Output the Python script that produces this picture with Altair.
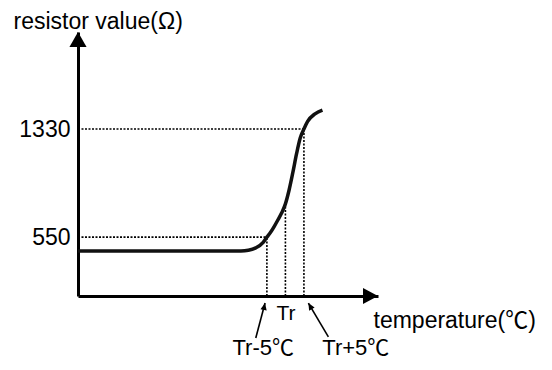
import altair as alt
import pandas as pd

# ---- data (temperature relative to Tr in degC, resistance in ohm) ----
temp_c = [-56, -12, -10, -8, -6, -5, -4, -3, -2, -1, 0, 1, 2, 3, 4, 5, 6, 8, 10]
resist = [450, 450, 455, 472, 512, 550, 585, 628, 675, 725, 790, 890, 1015, 1150, 1265, 1330, 1385, 1440, 1467]

res_ticks = [550, 1330]            # labelled resistance values
temp_marks = [-5, 0, 5]            # Tr-5, Tr, Tr+5
temp_mark_res = [550, 790, 1330]   # curve value at those temperatures
tick_label = "Tr"
anno_labels = ["Tr-5℃", "Tr+5℃"]

x_domain = [-56, 25]
y_domain = [125, 2030]

# annotation anchors (data units)
anno_text_t = [-6, 19]
anno_text_r = [-301, -301]
arrow_tail_t = [-8.0, 11.6]
arrow_tail_r = [-178, -170]
arrow_tip_t = [-5.5, 6.2]
arrow_tip_r = [74, 74]
arrow_angle = [12, 330]

FONT = "Liberation Sans, Arial, Noto Sans CJK SC, sans-serif"

xs = alt.Scale(domain=x_domain, nice=False, zero=False)
ys = alt.Scale(domain=y_domain, nice=False, zero=False)

x_axis = alt.Axis(values=[0], labelExpr="'" + tick_label + "'", ticks=False, grid=False,
                  domainColor="black", domainWidth=3, labelFontSize=21,
                  labelPadding=6, labelColor="black", labelFont=FONT,
                  title="temperature(℃)", titleX=295, titleY=31,
                  titleAlign="left", titleBaseline="alphabetic",
                  titleFontSize=23, titleFontWeight="normal", titleFont=FONT,
                  titleColor="black")
y_axis = alt.Axis(values=res_ticks, format="d", ticks=False, grid=False,
                  domainColor="black", domainWidth=3, labelFontSize=23,
                  labelPadding=8, labelColor="black", labelFont=FONT,
                  title="resistor value(Ω)", titleAngle=0, titleX=-65, titleY=-4,
                  titleAlign="left", titleBaseline="alphabetic",
                  titleFontSize=23, titleFontWeight="normal", titleFont=FONT,
                  titleColor="black")

X = alt.X("T:Q", scale=xs, axis=x_axis)
Y = alt.Y("R:Q", scale=ys, axis=y_axis)

curve_df = pd.DataFrame({"T": temp_c, "R": resist})
h_df = pd.DataFrame({"T": [x_domain[0]] * 2, "T2": [temp_marks[0], temp_marks[2]],
                     "R": [res_ticks[0], res_ticks[1]]})
v_df = pd.DataFrame({"T": temp_marks, "R": [y_domain[0]] * 3, "R2": temp_mark_res})
arrow_df = pd.DataFrame({"T": arrow_tail_t, "R": arrow_tail_r,
                         "T2": arrow_tip_t, "R2": arrow_tip_r})
head_df = pd.DataFrame({"T": arrow_tip_t, "R": arrow_tip_r, "angle": arrow_angle})
text_df = pd.DataFrame({"T": anno_text_t, "R": anno_text_r, "label": anno_labels})

dot = dict(strokeDash=[2, 1.5], strokeWidth=1.6, color="black")

guide_h = alt.Chart(h_df).mark_rule(**dot).encode(x=X, x2="T2:Q", y=Y)
guide_v = alt.Chart(v_df).mark_rule(**dot).encode(x=X, y=Y, y2="R2:Q")
curve = alt.Chart(curve_df).mark_line(interpolate="monotone", strokeWidth=3.5,
                                      color="#111111").encode(x=X, y=Y)

up_head = alt.Chart(pd.DataFrame({"T": [x_domain[0]], "R": [y_domain[1]]})).mark_point(
    shape="M0,0L-0.57,1L0.57,1Z", size=900, filled=True, color="black",
    opacity=1, strokeWidth=0).encode(x=X, y=Y)
right_head = alt.Chart(pd.DataFrame({"T": [x_domain[1]], "R": [y_domain[0]]})).mark_point(
    shape="M0,0L-1,-0.53L-1,0.53Z", size=900, filled=True, color="black",
    opacity=1, strokeWidth=0).encode(x=X, y=Y)

arrows = alt.Chart(arrow_df).mark_rule(strokeWidth=1.6, color="black").encode(
    x=X, y=Y, x2="T2:Q", y2="R2:Q")
heads = alt.Chart(head_df).mark_point(
    shape="M0,0L-0.45,1L0.45,1Z", size=196, filled=True, color="black",
    opacity=1, strokeWidth=0).encode(x=X, y=Y, angle=alt.Angle("angle:Q", scale=None))
texts = alt.Chart(text_df).mark_text(fontSize=22, font=FONT, align="center",
                                     baseline="alphabetic", color="black").encode(
    x=X, y=Y, text="label:N")

chart = alt.layer(guide_h, guide_v, curve, up_head, right_head, arrows, heads, texts).properties(
    width=300, height=264,
    autosize=alt.AutoSizeParams(type="none"),
    padding={"left": 70, "top": 24, "right": 166, "bottom": 66},
    background="white",
).configure_view(strokeWidth=0)

chart.save("out.html", embed_options={"renderer": "svg", "actions": False})
